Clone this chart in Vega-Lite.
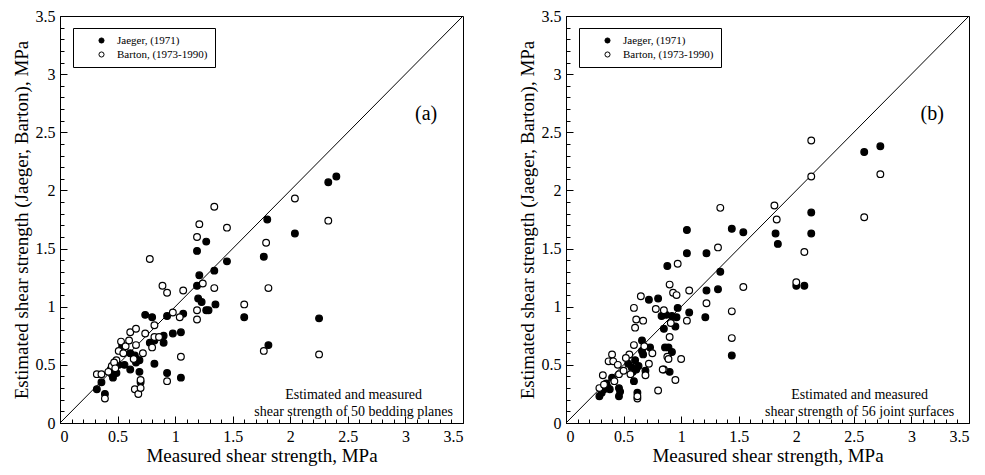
{
  "$schema": "https://vega.github.io/schema/vega-lite/v6.json",
  "background": "white",
  "padding": {"left": 11, "top": 7, "right": 5, "bottom": 0},
  "config": {
    "view": {"stroke": "black", "strokeWidth": 1},
    "font": "Liberation Serif",
    "concat": {"spacing": 53},
    "axis": {"labelFont": "Liberation Serif", "titleFont": "Liberation Serif", "labelFontSize": 16, "titleFontSize": 19, "titleFontWeight": "normal", "labelColor": "black", "titleColor": "black", "domainColor": "black", "tickColor": "black", "grid": false},
    "legend": {"labelFont": "Liberation Serif", "labelFontSize": 11, "labelColor": "black"}
  },
  "datasets": {
    "a": [
      {"m": 0.32, "e": 0.29, "s": "Jaeger, (1971)"},
      {"m": 0.36, "e": 0.35, "s": "Jaeger, (1971)"},
      {"m": 0.39, "e": 0.25, "s": "Jaeger, (1971)"},
      {"m": 0.45, "e": 0.42, "s": "Jaeger, (1971)"},
      {"m": 0.46, "e": 0.39, "s": "Jaeger, (1971)"},
      {"m": 0.49, "e": 0.43, "s": "Jaeger, (1971)"},
      {"m": 0.51, "e": 0.50, "s": "Jaeger, (1971)"},
      {"m": 0.56, "e": 0.50, "s": "Jaeger, (1971)"},
      {"m": 0.54, "e": 0.66, "s": "Jaeger, (1971)"},
      {"m": 0.61, "e": 0.60, "s": "Jaeger, (1971)"},
      {"m": 0.61, "e": 0.46, "s": "Jaeger, (1971)"},
      {"m": 0.65, "e": 0.58, "s": "Jaeger, (1971)"},
      {"m": 0.66, "e": 0.55, "s": "Jaeger, (1971)"},
      {"m": 0.69, "e": 0.54, "s": "Jaeger, (1971)"},
      {"m": 0.69, "e": 0.44, "s": "Jaeger, (1971)"},
      {"m": 0.70, "e": 0.35, "s": "Jaeger, (1971)"},
      {"m": 0.74, "e": 0.93, "s": "Jaeger, (1971)"},
      {"m": 0.80, "e": 0.91, "s": "Jaeger, (1971)"},
      {"m": 0.78, "e": 0.69, "s": "Jaeger, (1971)"},
      {"m": 0.82, "e": 0.71, "s": "Jaeger, (1971)"},
      {"m": 0.82, "e": 0.51, "s": "Jaeger, (1971)"},
      {"m": 0.90, "e": 0.75, "s": "Jaeger, (1971)"},
      {"m": 0.90, "e": 0.69, "s": "Jaeger, (1971)"},
      {"m": 0.93, "e": 0.43, "s": "Jaeger, (1971)"},
      {"m": 0.93, "e": 0.92, "s": "Jaeger, (1971)"},
      {"m": 0.98, "e": 0.77, "s": "Jaeger, (1971)"},
      {"m": 1.05, "e": 0.78, "s": "Jaeger, (1971)"},
      {"m": 1.07, "e": 0.94, "s": "Jaeger, (1971)"},
      {"m": 1.05, "e": 0.39, "s": "Jaeger, (1971)"},
      {"m": 1.19, "e": 1.48, "s": "Jaeger, (1971)"},
      {"m": 1.27, "e": 1.56, "s": "Jaeger, (1971)"},
      {"m": 1.21, "e": 1.27, "s": "Jaeger, (1971)"},
      {"m": 1.19, "e": 1.18, "s": "Jaeger, (1971)"},
      {"m": 1.20, "e": 1.07, "s": "Jaeger, (1971)"},
      {"m": 1.23, "e": 1.04, "s": "Jaeger, (1971)"},
      {"m": 1.27, "e": 0.97, "s": "Jaeger, (1971)"},
      {"m": 1.29, "e": 0.97, "s": "Jaeger, (1971)"},
      {"m": 1.34, "e": 1.31, "s": "Jaeger, (1971)"},
      {"m": 1.35, "e": 1.02, "s": "Jaeger, (1971)"},
      {"m": 1.45, "e": 1.39, "s": "Jaeger, (1971)"},
      {"m": 1.60, "e": 0.91, "s": "Jaeger, (1971)"},
      {"m": 1.77, "e": 1.43, "s": "Jaeger, (1971)"},
      {"m": 1.80, "e": 1.75, "s": "Jaeger, (1971)"},
      {"m": 1.81, "e": 0.67, "s": "Jaeger, (1971)"},
      {"m": 2.04, "e": 1.63, "s": "Jaeger, (1971)"},
      {"m": 2.33, "e": 2.07, "s": "Jaeger, (1971)"},
      {"m": 2.40, "e": 2.12, "s": "Jaeger, (1971)"},
      {"m": 2.25, "e": 0.90, "s": "Jaeger, (1971)"},
      {"m": 0.44, "e": 0.46, "s": "Jaeger, (1971)"},
      {"m": 0.66, "e": 0.52, "s": "Jaeger, (1971)"},
      {"m": 0.32, "e": 0.42, "s": "Barton, (1973-1990)"},
      {"m": 0.36, "e": 0.42, "s": "Barton, (1973-1990)"},
      {"m": 0.39, "e": 0.21, "s": "Barton, (1973-1990)"},
      {"m": 0.45, "e": 0.49, "s": "Barton, (1973-1990)"},
      {"m": 0.49, "e": 0.54, "s": "Barton, (1973-1990)"},
      {"m": 0.51, "e": 0.62, "s": "Barton, (1973-1990)"},
      {"m": 0.53, "e": 0.70, "s": "Barton, (1973-1990)"},
      {"m": 0.57, "e": 0.66, "s": "Barton, (1973-1990)"},
      {"m": 0.61, "e": 0.78, "s": "Barton, (1973-1990)"},
      {"m": 0.66, "e": 0.81, "s": "Barton, (1973-1990)"},
      {"m": 0.66, "e": 0.67, "s": "Barton, (1973-1990)"},
      {"m": 0.65, "e": 0.29, "s": "Barton, (1973-1990)"},
      {"m": 0.68, "e": 0.25, "s": "Barton, (1973-1990)"},
      {"m": 0.70, "e": 0.37, "s": "Barton, (1973-1990)"},
      {"m": 0.74, "e": 0.77, "s": "Barton, (1973-1990)"},
      {"m": 0.78, "e": 1.41, "s": "Barton, (1973-1990)"},
      {"m": 0.80, "e": 0.65, "s": "Barton, (1973-1990)"},
      {"m": 0.82, "e": 0.84, "s": "Barton, (1973-1990)"},
      {"m": 0.82, "e": 0.74, "s": "Barton, (1973-1990)"},
      {"m": 0.89, "e": 1.18, "s": "Barton, (1973-1990)"},
      {"m": 0.93, "e": 1.12, "s": "Barton, (1973-1990)"},
      {"m": 0.93, "e": 0.36, "s": "Barton, (1973-1990)"},
      {"m": 0.98, "e": 0.95, "s": "Barton, (1973-1990)"},
      {"m": 1.04, "e": 0.91, "s": "Barton, (1973-1990)"},
      {"m": 1.05, "e": 0.57, "s": "Barton, (1973-1990)"},
      {"m": 1.07, "e": 1.14, "s": "Barton, (1973-1990)"},
      {"m": 1.19, "e": 0.97, "s": "Barton, (1973-1990)"},
      {"m": 1.19, "e": 0.89, "s": "Barton, (1973-1990)"},
      {"m": 1.19, "e": 1.60, "s": "Barton, (1973-1990)"},
      {"m": 1.21, "e": 1.71, "s": "Barton, (1973-1990)"},
      {"m": 1.24, "e": 1.20, "s": "Barton, (1973-1990)"},
      {"m": 1.34, "e": 1.16, "s": "Barton, (1973-1990)"},
      {"m": 1.34, "e": 1.86, "s": "Barton, (1973-1990)"},
      {"m": 1.45, "e": 1.68, "s": "Barton, (1973-1990)"},
      {"m": 1.60, "e": 1.02, "s": "Barton, (1973-1990)"},
      {"m": 1.79, "e": 1.55, "s": "Barton, (1973-1990)"},
      {"m": 1.81, "e": 1.16, "s": "Barton, (1973-1990)"},
      {"m": 1.77, "e": 0.62, "s": "Barton, (1973-1990)"},
      {"m": 2.04, "e": 1.93, "s": "Barton, (1973-1990)"},
      {"m": 2.33, "e": 1.74, "s": "Barton, (1973-1990)"},
      {"m": 2.25, "e": 0.59, "s": "Barton, (1973-1990)"},
      {"m": 0.42, "e": 0.44, "s": "Barton, (1973-1990)"},
      {"m": 0.47, "e": 0.52, "s": "Barton, (1973-1990)"},
      {"m": 0.55, "e": 0.60, "s": "Barton, (1973-1990)"},
      {"m": 0.60, "e": 0.71, "s": "Barton, (1973-1990)"},
      {"m": 0.70, "e": 0.30, "s": "Barton, (1973-1990)"},
      {"m": 0.72, "e": 0.60, "s": "Barton, (1973-1990)"},
      {"m": 0.48, "e": 0.47, "s": "Barton, (1973-1990)"},
      {"m": 0.64, "e": 0.55, "s": "Barton, (1973-1990)"},
      {"m": 0.86, "e": 0.74, "s": "Barton, (1973-1990)"}
    ],
    "b": [
      {"m": 0.29, "e": 0.23, "s": "Jaeger, (1971)"},
      {"m": 0.33, "e": 0.29, "s": "Jaeger, (1971)"},
      {"m": 0.35, "e": 0.34, "s": "Jaeger, (1971)"},
      {"m": 0.38, "e": 0.29, "s": "Jaeger, (1971)"},
      {"m": 0.40, "e": 0.39, "s": "Jaeger, (1971)"},
      {"m": 0.46, "e": 0.30, "s": "Jaeger, (1971)"},
      {"m": 0.46, "e": 0.23, "s": "Jaeger, (1971)"},
      {"m": 0.54, "e": 0.51, "s": "Jaeger, (1971)"},
      {"m": 0.57, "e": 0.48, "s": "Jaeger, (1971)"},
      {"m": 0.59, "e": 0.36, "s": "Jaeger, (1971)"},
      {"m": 0.60, "e": 0.54, "s": "Jaeger, (1971)"},
      {"m": 0.61, "e": 0.46, "s": "Jaeger, (1971)"},
      {"m": 0.62, "e": 0.26, "s": "Jaeger, (1971)"},
      {"m": 0.66, "e": 0.71, "s": "Jaeger, (1971)"},
      {"m": 0.67, "e": 0.59, "s": "Jaeger, (1971)"},
      {"m": 0.69, "e": 0.45, "s": "Jaeger, (1971)"},
      {"m": 0.73, "e": 0.65, "s": "Jaeger, (1971)"},
      {"m": 0.72, "e": 1.06, "s": "Jaeger, (1971)"},
      {"m": 0.80, "e": 1.07, "s": "Jaeger, (1971)"},
      {"m": 0.83, "e": 0.92, "s": "Jaeger, (1971)"},
      {"m": 0.85, "e": 0.81, "s": "Jaeger, (1971)"},
      {"m": 0.86, "e": 0.65, "s": "Jaeger, (1971)"},
      {"m": 0.89, "e": 0.65, "s": "Jaeger, (1971)"},
      {"m": 0.90, "e": 0.44, "s": "Jaeger, (1971)"},
      {"m": 0.88, "e": 1.35, "s": "Jaeger, (1971)"},
      {"m": 0.92, "e": 0.92, "s": "Jaeger, (1971)"},
      {"m": 0.95, "e": 0.83, "s": "Jaeger, (1971)"},
      {"m": 0.96, "e": 0.91, "s": "Jaeger, (1971)"},
      {"m": 0.97, "e": 0.99, "s": "Jaeger, (1971)"},
      {"m": 1.05, "e": 1.66, "s": "Jaeger, (1971)"},
      {"m": 1.05, "e": 1.46, "s": "Jaeger, (1971)"},
      {"m": 1.07, "e": 0.95, "s": "Jaeger, (1971)"},
      {"m": 1.21, "e": 0.91, "s": "Jaeger, (1971)"},
      {"m": 1.22, "e": 1.46, "s": "Jaeger, (1971)"},
      {"m": 1.22, "e": 1.14, "s": "Jaeger, (1971)"},
      {"m": 1.32, "e": 1.15, "s": "Jaeger, (1971)"},
      {"m": 1.34, "e": 1.30, "s": "Jaeger, (1971)"},
      {"m": 1.44, "e": 0.58, "s": "Jaeger, (1971)"},
      {"m": 1.44, "e": 1.67, "s": "Jaeger, (1971)"},
      {"m": 1.54, "e": 1.64, "s": "Jaeger, (1971)"},
      {"m": 1.82, "e": 1.63, "s": "Jaeger, (1971)"},
      {"m": 1.84, "e": 1.54, "s": "Jaeger, (1971)"},
      {"m": 2.13, "e": 1.81, "s": "Jaeger, (1971)"},
      {"m": 2.13, "e": 1.63, "s": "Jaeger, (1971)"},
      {"m": 2.00, "e": 1.18, "s": "Jaeger, (1971)"},
      {"m": 2.07, "e": 1.18, "s": "Jaeger, (1971)"},
      {"m": 2.59, "e": 2.33, "s": "Jaeger, (1971)"},
      {"m": 2.73, "e": 2.38, "s": "Jaeger, (1971)"},
      {"m": 0.36, "e": 0.31, "s": "Jaeger, (1971)"},
      {"m": 0.58, "e": 0.44, "s": "Jaeger, (1971)"},
      {"m": 0.63, "e": 0.49, "s": "Jaeger, (1971)"},
      {"m": 0.87, "e": 0.93, "s": "Jaeger, (1971)"},
      {"m": 0.47, "e": 0.27, "s": "Jaeger, (1971)"},
      {"m": 0.31, "e": 0.26, "s": "Jaeger, (1971)"},
      {"m": 0.92, "e": 0.61, "s": "Jaeger, (1971)"},
      {"m": 0.66, "e": 0.62, "s": "Jaeger, (1971)"},
      {"m": 0.29, "e": 0.30, "s": "Barton, (1973-1990)"},
      {"m": 0.32, "e": 0.41, "s": "Barton, (1973-1990)"},
      {"m": 0.37, "e": 0.53, "s": "Barton, (1973-1990)"},
      {"m": 0.40, "e": 0.59, "s": "Barton, (1973-1990)"},
      {"m": 0.41, "e": 0.53, "s": "Barton, (1973-1990)"},
      {"m": 0.46, "e": 0.42, "s": "Barton, (1973-1990)"},
      {"m": 0.55, "e": 0.59, "s": "Barton, (1973-1990)"},
      {"m": 0.56, "e": 0.42, "s": "Barton, (1973-1990)"},
      {"m": 0.59, "e": 0.67, "s": "Barton, (1973-1990)"},
      {"m": 0.59, "e": 0.99, "s": "Barton, (1973-1990)"},
      {"m": 0.61, "e": 0.89, "s": "Barton, (1973-1990)"},
      {"m": 0.62, "e": 0.21, "s": "Barton, (1973-1990)"},
      {"m": 0.62, "e": 0.23, "s": "Barton, (1973-1990)"},
      {"m": 0.65, "e": 1.09, "s": "Barton, (1973-1990)"},
      {"m": 0.67, "e": 0.88, "s": "Barton, (1973-1990)"},
      {"m": 0.69, "e": 0.41, "s": "Barton, (1973-1990)"},
      {"m": 0.72, "e": 0.51, "s": "Barton, (1973-1990)"},
      {"m": 0.80, "e": 0.28, "s": "Barton, (1973-1990)"},
      {"m": 0.85, "e": 0.97, "s": "Barton, (1973-1990)"},
      {"m": 0.85, "e": 0.46, "s": "Barton, (1973-1990)"},
      {"m": 0.88, "e": 0.57, "s": "Barton, (1973-1990)"},
      {"m": 0.89, "e": 0.55, "s": "Barton, (1973-1990)"},
      {"m": 0.90, "e": 0.74, "s": "Barton, (1973-1990)"},
      {"m": 0.90, "e": 1.19, "s": "Barton, (1973-1990)"},
      {"m": 0.93, "e": 1.12, "s": "Barton, (1973-1990)"},
      {"m": 0.95, "e": 0.37, "s": "Barton, (1973-1990)"},
      {"m": 0.96, "e": 1.10, "s": "Barton, (1973-1990)"},
      {"m": 0.97, "e": 1.37, "s": "Barton, (1973-1990)"},
      {"m": 1.05, "e": 0.88, "s": "Barton, (1973-1990)"},
      {"m": 1.07, "e": 1.14, "s": "Barton, (1973-1990)"},
      {"m": 1.22, "e": 1.03, "s": "Barton, (1973-1990)"},
      {"m": 1.32, "e": 1.51, "s": "Barton, (1973-1990)"},
      {"m": 1.34, "e": 1.85, "s": "Barton, (1973-1990)"},
      {"m": 1.44, "e": 0.96, "s": "Barton, (1973-1990)"},
      {"m": 1.44, "e": 0.73, "s": "Barton, (1973-1990)"},
      {"m": 1.54, "e": 1.17, "s": "Barton, (1973-1990)"},
      {"m": 1.81, "e": 1.87, "s": "Barton, (1973-1990)"},
      {"m": 1.83, "e": 1.75, "s": "Barton, (1973-1990)"},
      {"m": 2.13, "e": 2.43, "s": "Barton, (1973-1990)"},
      {"m": 2.13, "e": 2.12, "s": "Barton, (1973-1990)"},
      {"m": 2.07, "e": 1.47, "s": "Barton, (1973-1990)"},
      {"m": 2.00, "e": 1.21, "s": "Barton, (1973-1990)"},
      {"m": 2.59, "e": 1.77, "s": "Barton, (1973-1990)"},
      {"m": 2.73, "e": 2.14, "s": "Barton, (1973-1990)"},
      {"m": 0.33, "e": 0.33, "s": "Barton, (1973-1990)"},
      {"m": 0.42, "e": 0.36, "s": "Barton, (1973-1990)"},
      {"m": 0.50, "e": 0.45, "s": "Barton, (1973-1990)"},
      {"m": 0.60, "e": 0.82, "s": "Barton, (1973-1990)"},
      {"m": 0.68, "e": 0.66, "s": "Barton, (1973-1990)"},
      {"m": 0.75, "e": 0.60, "s": "Barton, (1973-1990)"},
      {"m": 0.84, "e": 0.46, "s": "Barton, (1973-1990)"},
      {"m": 0.91, "e": 0.86, "s": "Barton, (1973-1990)"},
      {"m": 1.00, "e": 0.55, "s": "Barton, (1973-1990)"},
      {"m": 0.45, "e": 0.50, "s": "Barton, (1973-1990)"},
      {"m": 0.52, "e": 0.56, "s": "Barton, (1973-1990)"},
      {"m": 0.78, "e": 0.98, "s": "Barton, (1973-1990)"}
    ]
  },
  "resolve": {"scale": {"fill": "independent"}, "legend": {"fill": "independent"}},
  "hconcat": [
    {
      "width": 403,
      "height": 407,
      "resolve": {"axis": {"x": "independent", "y": "independent"}},
      "layer": [
        {
          "data": {"values": [{}]},
          "mark": {"type": "rule", "color": "black", "strokeWidth": 1},
          "encoding": {
            "x": {"datum": 0, "type": "quantitative", "scale": {"domain": [0, 3.5], "nice": false}, "axis": {"orient": "bottom", "values": [0.1,0.2,0.3,0.4,0.6,0.7,0.8,0.9,1.1,1.2,1.3,1.4,1.6,1.7,1.8,1.9,2.1,2.2,2.3,2.4,2.6,2.7,2.8,2.9,3.1,3.2,3.3,3.4], "labels": false, "domain": false, "tickSize": -4, "title": null}},
            "y": {"datum": 0, "type": "quantitative", "scale": {"domain": [0, 3.5], "nice": false}, "axis": {"orient": "left", "values": [0.1,0.2,0.3,0.4,0.6,0.7,0.8,0.9,1.1,1.2,1.3,1.4,1.6,1.7,1.8,1.9,2.1,2.2,2.3,2.4,2.6,2.7,2.8,2.9,3.1,3.2,3.3,3.4], "labels": false, "domain": false, "tickSize": -4, "title": null}},
            "x2": {"datum": 3.5},
            "y2": {"datum": 3.5}
          }
        },
        {
          "data": {"name": "a"},
          "mark": {"type": "circle", "stroke": "black", "strokeWidth": 1.2, "size": 45, "opacity": 1},
          "encoding": {
            "x": {"field": "m", "type": "quantitative", "scale": {"domain": [0, 3.5], "nice": false}, "axis": {"orient": "bottom", "values": [0,0.5,1,1.5,2,2.5,3,3.5], "format": "~g", "tickSize": -7, "labelPadding": 12, "title": "Measured shear strength, MPa", "titlePadding": 2}},
            "y": {"field": "e", "type": "quantitative", "scale": {"domain": [0, 3.5], "nice": false}, "axis": {"orient": "left", "values": [0,0.5,1,1.5,2,2.5,3,3.5], "format": "~g", "tickSize": -7, "labelPadding": 12, "title": "Estimated shear strength (Jaeger, Barton), MPa", "titlePadding": 4}},
            "fill": {"field": "s", "type": "nominal", "scale": {"domain": ["Jaeger, (1971)", "Barton, (1973-1990)"], "range": ["black", "white"]}, "legend": {"orient": "none", "legendX": 13, "legendY": 12, "title": null, "symbolType": "circle", "symbolSize": 26, "symbolStrokeColor": "black", "symbolStrokeWidth": 1, "strokeColor": "black", "fillColor": "white", "padding": 7, "symbolOffset": 16, "labelOffset": 10, "rowPadding": 2, "labelLimit": 300}}
          }
        },
        {
          "data": {"values": [{}]},
          "mark": {"type": "text", "fontSize": 20, "font": "Liberation Serif", "color": "black"},
          "encoding": {"x": {"datum": 3.18, "type": "quantitative", "axis": null}, "y": {"datum": 2.66, "type": "quantitative", "axis": null}, "text": {"value": "(a)"}}
        },
        {
          "data": {"values": [{}]},
          "mark": {"type": "text", "fontSize": 14, "font": "Liberation Serif", "color": "black", "lineHeight": 17, "baseline": "middle"},
          "encoding": {"x": {"datum": 2.55, "type": "quantitative", "axis": null}, "y": {"datum": 0.245, "type": "quantitative", "axis": null}, "text": {"value": ["Estimated and measured", "shear strength of 50 bedding planes"]}}
        }
      ]
    },
    {
      "width": 403,
      "height": 407,
      "resolve": {"axis": {"x": "independent", "y": "independent"}},
      "layer": [
        {
          "data": {"values": [{}]},
          "mark": {"type": "rule", "color": "black", "strokeWidth": 1},
          "encoding": {
            "x": {"datum": 0, "type": "quantitative", "scale": {"domain": [0, 3.5], "nice": false}, "axis": {"orient": "bottom", "values": [0.1,0.2,0.3,0.4,0.6,0.7,0.8,0.9,1.1,1.2,1.3,1.4,1.6,1.7,1.8,1.9,2.1,2.2,2.3,2.4,2.6,2.7,2.8,2.9,3.1,3.2,3.3,3.4], "labels": false, "domain": false, "tickSize": -4, "title": null}},
            "y": {"datum": 0, "type": "quantitative", "scale": {"domain": [0, 3.5], "nice": false}, "axis": {"orient": "left", "values": [0.1,0.2,0.3,0.4,0.6,0.7,0.8,0.9,1.1,1.2,1.3,1.4,1.6,1.7,1.8,1.9,2.1,2.2,2.3,2.4,2.6,2.7,2.8,2.9,3.1,3.2,3.3,3.4], "labels": false, "domain": false, "tickSize": -4, "title": null}},
            "x2": {"datum": 3.5},
            "y2": {"datum": 3.5}
          }
        },
        {
          "data": {"name": "b"},
          "mark": {"type": "circle", "stroke": "black", "strokeWidth": 1.2, "size": 45, "opacity": 1},
          "encoding": {
            "x": {"field": "m", "type": "quantitative", "scale": {"domain": [0, 3.5], "nice": false}, "axis": {"orient": "bottom", "values": [0,0.5,1,1.5,2,2.5,3,3.5], "format": "~g", "tickSize": -7, "labelPadding": 12, "title": "Measured shear strength, MPa", "titlePadding": 2}},
            "y": {"field": "e", "type": "quantitative", "scale": {"domain": [0, 3.5], "nice": false}, "axis": {"orient": "left", "values": [0,0.5,1,1.5,2,2.5,3,3.5], "format": "~g", "tickSize": -7, "labelPadding": 12, "title": "Estimated shear strength (Jaeger, Barton), MPa", "titlePadding": 4}},
            "fill": {"field": "s", "type": "nominal", "scale": {"domain": ["Jaeger, (1971)", "Barton, (1973-1990)"], "range": ["black", "white"]}, "legend": {"orient": "none", "legendX": 13, "legendY": 12, "title": null, "symbolType": "circle", "symbolSize": 26, "symbolStrokeColor": "black", "symbolStrokeWidth": 1, "strokeColor": "black", "fillColor": "white", "padding": 7, "symbolOffset": 16, "labelOffset": 10, "rowPadding": 2, "labelLimit": 300}}
          }
        },
        {
          "data": {"values": [{}]},
          "mark": {"type": "text", "fontSize": 20, "font": "Liberation Serif", "color": "black"},
          "encoding": {"x": {"datum": 3.18, "type": "quantitative", "axis": null}, "y": {"datum": 2.66, "type": "quantitative", "axis": null}, "text": {"value": "(b)"}}
        },
        {
          "data": {"values": [{}]},
          "mark": {"type": "text", "fontSize": 14, "font": "Liberation Serif", "color": "black", "lineHeight": 17, "baseline": "middle"},
          "encoding": {"x": {"datum": 2.55, "type": "quantitative", "axis": null}, "y": {"datum": 0.245, "type": "quantitative", "axis": null}, "text": {"value": ["Estimated and measured", "shear strength of 56 joint surfaces"]}}
        }
      ]
    }
  ]
}
